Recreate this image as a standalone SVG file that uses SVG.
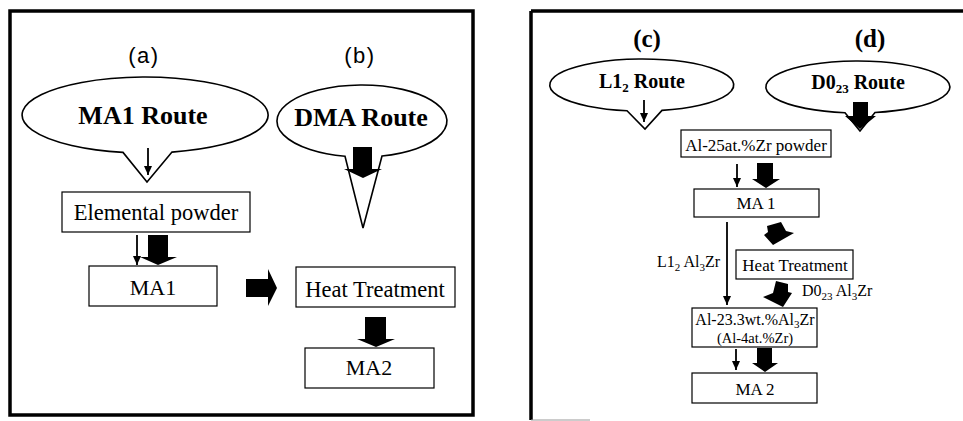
<svg xmlns="http://www.w3.org/2000/svg" width="963" height="421" viewBox="0 0 963 421">
<defs>
<marker id="ah" markerWidth="9" markerHeight="8" refX="9" refY="4" orient="auto" markerUnits="userSpaceOnUse" viewBox="0 0 9 8">
<path d="M0,0 L9,4 L0,8 Z" fill="#000"/>
</marker>
<style>
.frame{fill:none;stroke:#000;stroke-width:3.5}
.bubble{fill:#fff;stroke:#000;stroke-width:1.6}
.box{fill:#fff;stroke:#000;stroke-width:1.2}
.thin{stroke:#000;stroke-width:1.8;fill:none}
.thick{fill:#000;stroke:none}
.sans{font-family:"Liberation Sans",Arial,sans-serif;fill:#000}
.serif{font-family:"Liberation Serif","Times New Roman",serif;fill:#000}
.b{font-weight:bold}
</style>
</defs>
<rect width="963" height="421" fill="#fff"/>

<!-- frames -->
<g id="frames">
<rect class="frame" x="10" y="11" width="463" height="404"/>
<path d="M531,11 L963,11 M531,11 L531,420" stroke="#000" stroke-width="3.5" fill="none"/>
<path d="M531,420 L590,420" stroke="#999" stroke-width="1" fill="none"/>
</g>

<!-- panel labels -->
<g id="labels">
<text class="sans" x="144" y="63" font-size="22" text-anchor="middle" letter-spacing="1.5">(a)</text>
<text class="sans" x="360" y="63" font-size="22" text-anchor="middle" letter-spacing="1.5">(b)</text>
<text class="serif b" x="647" y="47" font-size="25" text-anchor="middle">(c)</text>
<text class="serif b" x="870" y="47" font-size="25" text-anchor="middle">(d)</text>
</g>

<!-- Left panel nodes -->
<g id="ma1-route">
<path class="bubble" d="M123,152.4 A123,38 0 1 1 172,152.1 L147,182 Z"/>
<text class="serif b" x="143" y="124" font-size="26" text-anchor="middle">MA1 Route</text>
</g>
<g id="dma-route">
<path class="bubble" d="M345,156.3 A85,36 0 1 1 382,156 L363,228 Z"/>
<text class="serif b" x="361" y="126" font-size="26" text-anchor="middle">DMA Route</text>
</g>
<g id="elemental-powder">
<rect class="box" x="62" y="192" width="188" height="40"/>
<text class="serif" x="156" y="220" font-size="22.5" text-anchor="middle">Elemental powder</text>
</g>
<g id="ma1">
<rect class="box" x="89" y="266" width="128" height="40"/>
<text class="serif" x="153" y="295" font-size="22" text-anchor="middle">MA1</text>
</g>
<g id="heat-treatment-left">
<rect class="box" x="296" y="267" width="159" height="40"/>
<text class="serif" x="375" y="297" font-size="22.5" text-anchor="middle">Heat Treatment</text>
</g>
<g id="ma2">
<rect class="box" x="305" y="348" width="129" height="40"/>
<text class="serif" x="369" y="375" font-size="22" text-anchor="middle">MA2</text>
</g>

<!-- Right panel nodes -->
<g id="l12-route">
<path class="bubble" d="M627,110.7 A92,26 0 1 1 662,110.4 L645,129 Z"/>
<text class="serif b" x="642" y="88" font-size="20" text-anchor="middle">L1<tspan font-size="13" dy="4">2</tspan><tspan dy="-4"> Route</tspan></text>
</g>
<g id="d023-route">
<path class="bubble" d="M845,112.7 A92,26 0 1 1 875,112.5 L860,131 Z"/>
<text class="serif b" x="858" y="89" font-size="20" text-anchor="middle">D0<tspan font-size="13" dy="4">23</tspan><tspan dy="-4"> Route</tspan></text>
</g>
<g id="al25-powder">
<rect class="box" x="681" y="130" width="150" height="27"/>
<text class="serif" x="756" y="151" font-size="17" text-anchor="middle">Al-25at.%Zr powder</text>
</g>
<g id="ma-1">
<rect class="box" x="694" y="189" width="125" height="28"/>
<text class="serif" x="756" y="209" font-size="17" text-anchor="middle">MA 1</text>
</g>
<g id="heat-treatment-right">
<rect class="box" x="736" y="250" width="117" height="29"/>
<text class="serif" x="795" y="271" font-size="17" text-anchor="middle">Heat Treatment</text>
</g>
<g id="al233">
<rect class="box" x="692" y="308" width="125" height="39"/>
<text class="serif" x="755" y="325" font-size="16" text-anchor="middle">Al-23.3wt.%Al<tspan font-size="11" dy="3">3</tspan><tspan dy="-3">Zr</tspan></text>
<text class="serif" x="755" y="343" font-size="14.5" text-anchor="middle">(Al-4at.%Zr)</text>
</g>
<g id="ma-2">
<rect class="box" x="692" y="373" width="125" height="30"/>
<text class="serif" x="755" y="395" font-size="17" text-anchor="middle">MA 2</text>
</g>

<!-- connectors -->
<g id="connectors">
<!-- left panel -->
<line class="thin" x1="148" y1="148" x2="148" y2="175" marker-end="url(#ah)"/>
<polygon class="thick" points="353,147 372,147 372,169 382,169 363,178 344,169 353,169"/>
<line class="thin" x1="137" y1="235" x2="137" y2="265" marker-end="url(#ah)"/>
<polygon class="thick" points="148,235 168,235 168,257 177,257 158,265 140,257 148,257"/>
<polygon class="thick" points="246,279 268,279 268,269 277,288 268,306 268,297 246,297"/>
<polygon class="thick" points="365,317 386,317 386,339 395,339 376,347 357,339 365,339"/>
<!-- right panel -->
<line class="thin" x1="644" y1="100" x2="644" y2="122" marker-end="url(#ah)"/>
<polygon class="thick" points="853,102 868,102 868,116 876,116 860,129 845,116 853,116"/>
<line class="thin" x1="737" y1="164" x2="737" y2="187" marker-end="url(#ah)"/>
<polygon class="thick" points="757,163 773,163 773,179 780,179 766,188 752,179 757,179"/>
<line class="thin" x1="727" y1="222" x2="727" y2="305" marker-end="url(#ah)"/>
<text class="serif" x="720" y="267" font-size="16" text-anchor="end">L1<tspan font-size="11" dy="4">2</tspan><tspan dy="-4"> Al</tspan><tspan font-size="11" dy="4">3</tspan><tspan dy="-4">Zr</tspan></text>
<polygon class="thick" points="767,226 781,222 786,231 794,233 773,245 764,235 768,232"/>
<polygon class="thick" points="776,281 788,284 788,292 792,293 783,307 763,297 773,293"/>
<text class="serif" x="802" y="296" font-size="16">D0<tspan font-size="11" dy="4">23</tspan><tspan dy="-4"> Al</tspan><tspan font-size="11" dy="4">3</tspan><tspan dy="-4">Zr</tspan></text>
<line class="thin" x1="736" y1="349" x2="736" y2="370" marker-end="url(#ah)"/>
<polygon class="thick" points="757,348 772,348 772,363 778,363 765,372 752,363 757,363"/>
</g>
</svg>
